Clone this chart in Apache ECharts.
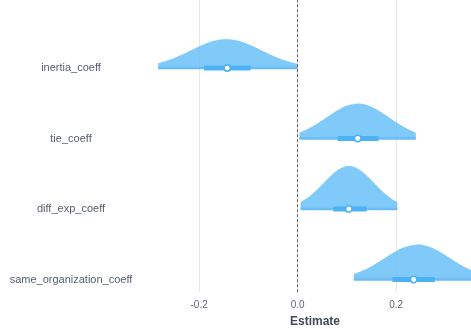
<!DOCTYPE html>
<html>
<head>
<meta charset="utf-8">
<script src="https://cdn.jsdelivr.net/npm/echarts@6/dist/echarts.min.js"></script>
<style>
html,body{margin:0;padding:0;background:#fff;}
#chart{width:471px;height:329px;}
</style>
</head>
<body>
<div id="chart"></div>
<script>
// ---- data ----
const categories = ['inertia_coeff', 'tie_coeff', 'diff_exp_coeff', 'same_organization_coeff'];
const rowPos = [3, 2, 1, 0];

const inertiaX = [-0.283, -0.26, -0.235, -0.21, -0.185, -0.165, -0.145, -0.125, -0.105, -0.08, -0.055, -0.03, 0.0];
const inertiaDensity = [0.067, 0.117, 0.19, 0.274, 0.352, 0.395, 0.41, 0.395, 0.352, 0.274, 0.19, 0.117, 0.058];

const tieX = [0.0035, 0.02, 0.04, 0.06, 0.08, 0.1, 0.122, 0.14, 0.16, 0.18, 0.2, 0.22, 0.24];
const tieDensity = [0.08, 0.134, 0.213, 0.306, 0.397, 0.467, 0.496, 0.476, 0.414, 0.325, 0.231, 0.148, 0.08];

const diffExpX = [0.006, 0.02, 0.035, 0.05, 0.065, 0.08, 0.095, 0.104, 0.115, 0.13, 0.145, 0.16, 0.175, 0.19, 0.2024];
const diffExpDensity = [0.098, 0.159, 0.246, 0.35, 0.456, 0.547, 0.601, 0.61, 0.596, 0.536, 0.443, 0.335, 0.233, 0.149, 0.096];

const sameOrgX = [0.114, 0.135, 0.155, 0.175, 0.195, 0.215, 0.243, 0.265, 0.285, 0.305, 0.325, 0.345, 0.37];
const sameOrgDensity = [0.078, 0.135, 0.209, 0.296, 0.384, 0.455, 0.496, 0.47, 0.407, 0.323, 0.234, 0.156, 0.082];

const pointEstimate = [-0.143, 0.122, 0.104, 0.2355];
const thickLow = [-0.19, 0.0812, 0.0725, 0.1922];
const thickHigh = [-0.0954, 0.1644, 0.14, 0.2787];

const xTickValues = [-0.2, 0.0, 0.2];

const densX = [inertiaX, tieX, diffExpX, sameOrgX];
const densY = [inertiaDensity, tieDensity, diffExpDensity, sameOrgDensity];

// ---- styles ----
const FILL = 'rgba(100,190,248,0.82)';
const THIN = '#6abcf7';
const THICK = '#4db2f5';

function catmull(pts, steps) {
  const out = [pts[0]];
  for (let i = 0; i < pts.length - 1; i++) {
    const p0 = pts[i - 1] || pts[i], p1 = pts[i], p2 = pts[i + 1], p3 = pts[i + 2] || pts[i + 1];
    const c1 = [p1[0] + (p2[0] - p0[0]) / 6, p1[1] + (p2[1] - p0[1]) / 6];
    const c2 = [p2[0] - (p3[0] - p1[0]) / 6, p2[1] - (p3[1] - p1[1]) / 6];
    for (let s = 1; s <= steps; s++) {
      const t = s / steps, u = 1 - t;
      out.push([
        u*u*u*p1[0] + 3*u*u*t*c1[0] + 3*u*t*t*c2[0] + t*t*t*p2[0],
        u*u*u*p1[1] + 3*u*u*t*c1[1] + 3*u*t*t*c2[1] + t*t*t*p2[1]
      ]);
    }
  }
  return out;
}

function renderItem(params, api) {
  const i = params.dataIndex;
  const row = rowPos[i];
  const xs = densX[i], ds = densY[i];
  const n = xs.length;
  const curvePts = xs.map((x, k) => api.coord([x, row + ds[k]]));
  const smooth = catmull(curvePts, 8);
  const b0 = api.coord([xs[0], row]);
  const bN = api.coord([xs[n - 1], row]);
  const poly = [b0].concat(smooth).concat([bN]);
  const t0 = api.coord([thickLow[i], row]);
  const t1 = api.coord([thickHigh[i], row]);
  const pt = api.coord([pointEstimate[i], row]);
  return {
    type: 'group',
    children: [
      { type: 'polygon', shape: { points: poly }, style: { fill: FILL, stroke: null } },
      { type: 'line', shape: { x1: b0[0], y1: b0[1], x2: bN[0], y2: bN[1] }, style: { stroke: THIN, lineWidth: 2.5 } },
      { type: 'line', shape: { x1: t0[0], y1: t0[1], x2: t1[0], y2: t1[1] }, style: { stroke: THICK, lineWidth: 5 } },
      { type: 'circle', shape: { cx: pt[0], cy: pt[1], r: 3.2 }, style: { fill: '#ffffff', stroke: THICK, lineWidth: 1.6 } }
    ]
  };
}

const chart = echarts.init(document.getElementById('chart'), null, { renderer: 'canvas' });
chart.setOption({
  animation: false,
  grid: { left: 140, top: 0, width: 350, height: 292.2, containLabel: false, outerBoundsMode: 'none' },
  xAxis: {
    type: 'value',
    min: -0.32,
    max: 0.3905,
    minInterval: 0.2,
    maxInterval: 0.2,
    name: 'Estimate',
    nameLocation: 'middle',
    nameGap: 23,
    nameTextStyle: { fontFamily: 'Liberation Sans', fontSize: 12, fontWeight: 'bold', color: '#3f4b5b' },
    axisLine: { show: false },
    axisTick: { show: false },
    axisLabel: {
      showMinLabel: false, showMaxLabel: false,
      margin: 8,
      fontFamily: 'Liberation Sans', fontSize: 10, color: '#5f6673',
      formatter: function (v) {
        for (const t of xTickValues) if (Math.abs(v - t) < 1e-9) return t.toFixed(1);
        return '';
      }
    },
    splitLine: { show: true, showMinLine: false, showMaxLine: false, lineStyle: { color: '#e6e6e6', width: 1 } }
  },
  yAxis: {
    type: 'value',
    min: -0.18,
    max: 3.965,
    minInterval: 1,
    maxInterval: 1,
    axisLine: { show: false },
    axisTick: { show: false },
    splitLine: { show: false },
    axisLabel: {
      showMinLabel: false, showMaxLabel: false,
      align: 'center',
      margin: 69,
      fontFamily: 'Liberation Sans', fontSize: 11, color: '#555d6b',
      formatter: function (v) {
        const idx = rowPos.findIndex(r => Math.abs(r - v) < 1e-9);
        return idx >= 0 ? categories[idx] : '';
      }
    }
  },
  series: [
    {
      type: 'line',
      data: [[0, -0.18]],
      symbol: 'none',
      lineStyle: { opacity: 0 },
      silent: true,
      markLine: {
        silent: true,
        symbol: ['none', 'none'],
        label: { show: false },
        lineStyle: { type: [3, 2], color: '#666666', width: 1 },
        data: [{ xAxis: 0 }]
      }
    },
    {
      type: 'custom',
      renderItem: renderItem,
      data: pointEstimate.map((v, i) => [v, rowPos[i]]),
      encode: { x: 0, y: 1 },
      z: 3
    }
  ]
});
</script>
</body>
</html>
